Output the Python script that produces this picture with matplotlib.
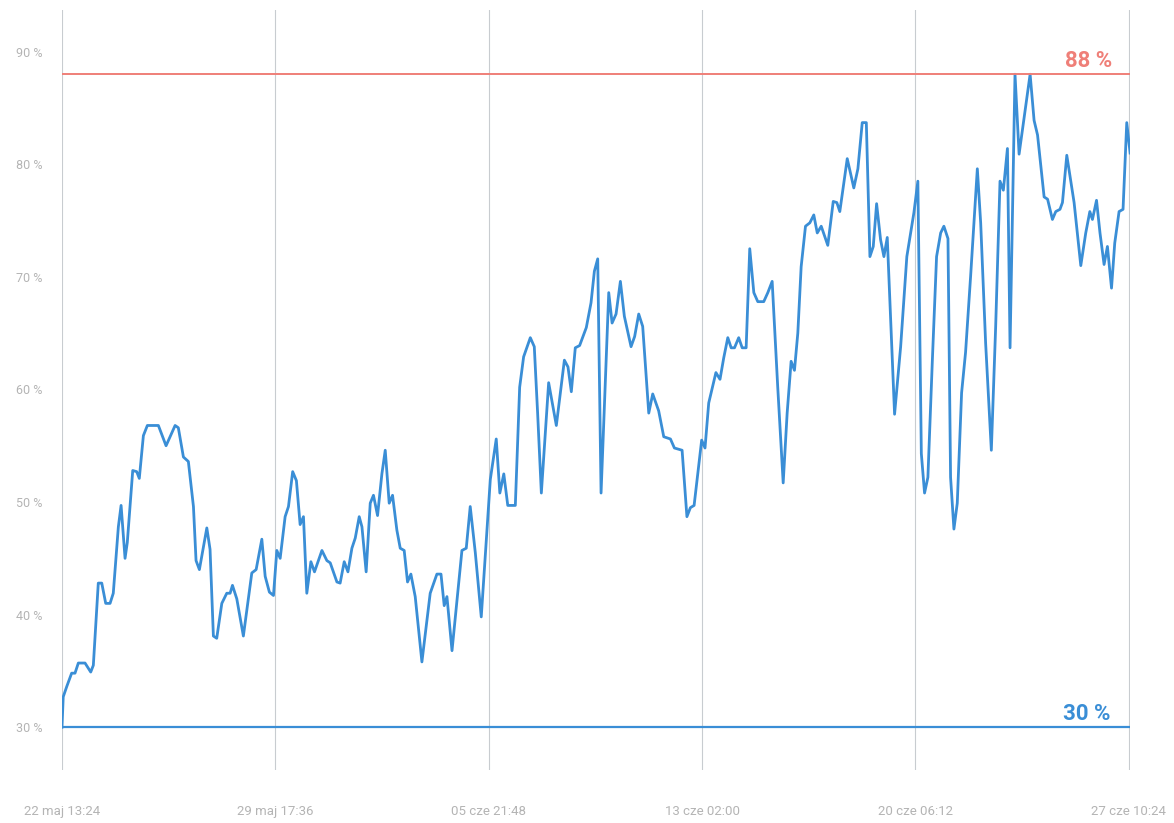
import matplotlib
matplotlib.use("Agg")
import matplotlib.pyplot as plt
from datetime import datetime, timedelta

# hours since first reading (22 maj 13:24) and reading in percent
hours = [0.0, 1.0, 3.8, 7.8, 10.5, 13.2, 18.6, 23.2, 25.3, 29.3, 32.1, 35.3, 38.8, 41.4,
         45.5, 47.7, 50.9, 52.7, 57.1, 60.3, 62.4, 65.7, 68.9, 77.8, 84.0, 91.3, 93.9,
         98.0, 102.0, 106.1, 108.2, 110.9, 116.9, 119.5, 122.2, 124.9, 129.0, 133.0,
         135.7, 137.6, 141.1, 146.4, 153.2, 156.7, 161.3, 164.0, 167.4, 170.7, 173.4,
         176.1, 180.1, 182.8, 186.2, 189.2, 192.2, 194.9, 197.6, 200.9, 203.8, 209.8,
         213.8, 216.5, 221.9, 224.5, 227.8, 230.8, 234.0, 236.7, 239.9, 242.1, 245.5,
         248.8, 251.4, 254.7, 258.2, 260.9, 264.1, 266.8, 270.3, 273.0, 276.2, 278.9,
         281.6, 285.1, 290.5, 297.2, 302.6, 305.9, 308.5, 310.7, 314.8, 322.8, 326.3,
         329.5, 333.6, 338.4, 345.7, 350.5, 353.4, 356.6, 359.8, 365.9, 369.4, 372.6,
         378.0, 381.2, 383.9, 386.9, 392.8, 399.0, 405.5, 408.4, 411.1, 414.3, 417.8,
         423.2, 427.0, 429.7, 432.4, 435.1, 441.3, 444.0, 447.2, 450.7, 453.9, 459.3,
         462.2, 465.5, 468.7, 473.6, 476.8, 481.6, 485.7, 491.1, 494.3, 500.5, 504.4,
         507.2, 510.2, 516.3, 519.0, 522.0, 524.8, 527.8, 531.1, 534.1, 537.4, 540.1,
         542.8, 546.2, 549.0, 552.2, 555.1, 558.4, 561.6, 566.4, 569.7, 573.2, 577.7,
         582.1, 585.3, 588.5, 591.2, 593.9, 596.6, 600.1, 603.6, 606.8, 609.6, 612.8,
         618.1, 622.5, 625.4, 627.8, 633.8, 639.1, 642.4, 645.9, 649.2, 652.1, 654.8,
         657.5, 660.7, 663.4, 666.1, 672.0, 676.9, 681.9, 687.6, 690.8, 693.6, 696.2,
         698.9, 702.5, 705.9, 709.2, 711.8, 715.1, 717.2, 719.9, 722.6, 726.1, 729.3,
         733.4, 738.8, 741.5, 745.5, 750.1, 753.6, 757.1, 759.8, 763.1, 765.2, 769.2,
         772.5, 776.0, 781.4, 784.6, 787.4, 792.7, 795.5, 799.4, 802.1, 805.5, 807.5,
         811.0, 816.9, 822.3, 826.3, 829.6, 831.7, 835.0, 837.8, 841.1, 843.8, 847.1,
         849.7, 853.2, 856.4, 859.4, 862.1]
values = [30.0, 32.7, 33.6, 34.8, 34.8, 35.7, 35.7, 34.9, 35.5, 42.8, 42.8, 41.0, 41.0, 41.9,
          47.8, 49.7, 45.0, 46.4, 52.8, 52.7, 52.1, 55.9, 56.8, 56.8, 55.0, 56.8, 56.6,
          54.0, 53.6, 49.6, 44.8, 44.0, 47.7, 45.8, 38.1, 37.9, 41.0, 41.9,
          41.9, 42.6, 41.4, 38.1, 43.7, 44.0, 46.7, 43.4, 42.0, 41.7, 45.7,
          45.0, 48.7, 49.6, 52.7, 51.9, 48.0, 48.7, 41.9, 44.7, 43.8, 45.7,
          44.8, 44.6, 42.9, 42.8, 44.7, 43.8, 45.9, 46.8, 48.7, 47.8, 43.8,
          49.9, 50.6, 48.8, 52.5, 54.6, 49.9, 50.6, 47.5, 45.9, 45.7, 42.9,
          43.6, 41.6, 35.8, 41.9, 43.6, 43.6, 40.8, 41.6, 36.8, 45.7, 45.9,
          49.6, 45.5, 39.8, 52.0, 55.6, 50.8, 52.5, 49.7, 49.7, 60.2, 62.9,
          64.6, 63.8, 57.9, 50.8, 60.6, 56.8, 62.6, 62.0, 59.8, 63.7, 63.9,
          65.5, 67.7, 70.5, 71.6, 50.8, 68.6, 65.9, 66.7, 69.6, 66.5, 63.8,
          64.7, 66.7, 65.6, 57.9, 59.6, 58.1, 55.8, 55.6, 54.8, 54.6, 48.7,
          49.5, 49.7, 55.5, 54.8, 58.8, 60.1, 61.5, 60.9, 62.8, 64.6, 63.7,
          63.7, 64.6, 63.7, 63.7, 72.5, 68.6, 67.8, 67.8, 68.6, 69.6, 60.2,
          51.7, 57.9, 62.5, 61.7, 65.0, 70.9, 74.5, 74.8, 75.5, 73.9, 74.5,
          72.8, 76.7, 76.6, 75.8, 80.5, 77.9, 79.6, 83.7, 83.7, 71.8, 72.7,
          76.5, 73.3, 71.8, 73.5, 57.8, 63.8, 71.8, 75.7, 78.5, 54.3, 50.8,
          52.2, 62.6, 71.8, 73.9, 74.5, 73.4, 52.2, 47.6, 49.9, 59.7, 63.3,
          70.1, 79.6, 74.8, 64.1, 54.6, 65.6, 78.5, 77.7, 81.4, 63.7, 88.0,
          80.9, 83.7, 88.0, 83.9, 82.6, 77.1, 76.9, 75.1, 75.8, 76.0, 76.6,
          80.8, 76.6, 71.0, 73.9, 75.8, 75.1, 76.8, 73.9, 71.1, 72.7, 69.0,
          73.0, 75.8, 76.0, 83.7, 81.0]

max_level = 88
min_level = 30
y_ticks = [30, 40, 50, 60, 70, 80, 90]
x_tick_labels = ["22 maj 13:24", "29 maj 17:36", "05 cze 21:48",
                 "13 cze 02:00", "20 cze 06:12", "27 cze 10:24"]

start = datetime(2024, 5, 22, 13, 24)
step = timedelta(days=7, hours=4, minutes=12)
times = [start + timedelta(hours=h) for h in hours]
tick_times = [start + i * step for i in range(len(x_tick_labels))]

plt.rcParams['font.family'] = ['Roboto', 'DejaVu Sans']

blue = '#3a8ed6'
red = '#ef7f78'
grey = '#b4b4b4'

fig = plt.figure(figsize=(11.74, 8.23), dpi=100)
ax = fig.add_axes([0.0528, 0.0644, 0.9097, 0.9234])

ax.plot(times, values, color=blue, linewidth=2.0, solid_joinstyle='round')
ax.axhline(max_level, color=red, linewidth=1.4)
ax.axhline(min_level, color=blue, linewidth=1.6)

end = start + timedelta(hours=862)
ax.text(start + timedelta(hours=848), max_level + 0.2, f"{max_level} %", color=red,
        fontsize=16, fontweight='bold', ha='right', va='bottom')
ax.text(start + timedelta(hours=846), min_level + 0.2, f"{min_level} %", color=blue,
        fontsize=16, fontweight='bold', ha='right', va='bottom')

ax.set_xlim(start, end)
ax.set_ylim(26.2, 93.7)
ax.set_xticks(tick_times)
ax.set_xticklabels(x_tick_labels)
ax.set_yticks(y_ticks)
ax.set_yticklabels([f"{v} %" for v in y_ticks])
ax.tick_params(axis='x', length=0, pad=25, labelsize=9.5, labelcolor=grey)
ax.tick_params(axis='y', length=0, pad=14, labelsize=9, labelcolor=grey)
ax.grid(axis='x', color='#c8ccd0', linewidth=0.8)
ax.grid(axis='y', visible=False)
for s in ax.spines.values():
    s.set_visible(False)

fig.savefig("out.png", dpi=100)
